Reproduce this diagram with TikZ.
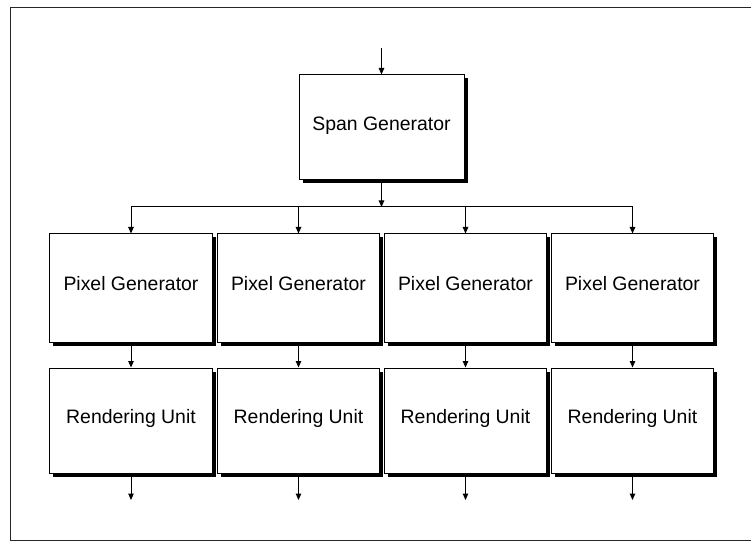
\documentclass[tikz,border=0pt]{standalone}
\usepackage{fontspec}
\setmainfont{Liberation Sans}
\usetikzlibrary{arrows.meta,shadows}

\tikzset{
  unit/.style={draw=black, fill=white, line width=1bp, inner sep=0pt,
    minimum width=162bp, minimum height=108bp,
    text height=14bp, text depth=8bp,
    font=\fontsize{19.5}{23}\selectfont,
    drop shadow={fill=black, opacity=1, shadow xshift=3.5bp, shadow yshift=-3.5bp}},
  link/.style={line width=1bp, -{Triangle[length=6.5bp,width=5.5bp]}},
  wire/.style={line width=1bp},
  frame/.style={line width=1bp, draw=black!85}
}

\begin{document}
\begin{tikzpicture}[x=1bp, y=-1bp]
  \useasboundingbox (0,0) rectangle (751,541);

  % open frame: top, left and bottom edges
  \draw[frame] (751,8) -- (10,8) -- (10,540) -- (751,540);

  % span generator and its input
  \node[unit, minimum width=165bp, minimum height=105bp] (span) at (381.5,127.5) {Span Generator};
  \coordinate (in) at (381.5,48);
  \draw[link] (in) -- (span.north);

  % pixel generators and rendering units
  \foreach \i/\x in {1/131, 2/298.5, 3/465.5, 4/632.5} {
    \node[unit] (pg\i) at (\x,288) {Pixel Generator};
    \node[unit, minimum height=105bp] (ru\i) at (\x,420.5) {Rendering Unit};
    \coordinate (bus\i) at (\x,207);
    \coordinate (out\i) at (\x,500);
  }

  % distribution bus from the span generator
  \coordinate (tap) at (span.south |- bus1);
  \draw[link] (span.south) -- (tap);
  \draw[wire] (bus1) -- (bus4);
  \foreach \i in {1,...,4} {
    \draw[link] (bus\i) -- (pg\i.north);
    \draw[link] (pg\i.south) -- (ru\i.north);
    \draw[link] (ru\i.south) -- (out\i);
  }
\end{tikzpicture}
\end{document}
